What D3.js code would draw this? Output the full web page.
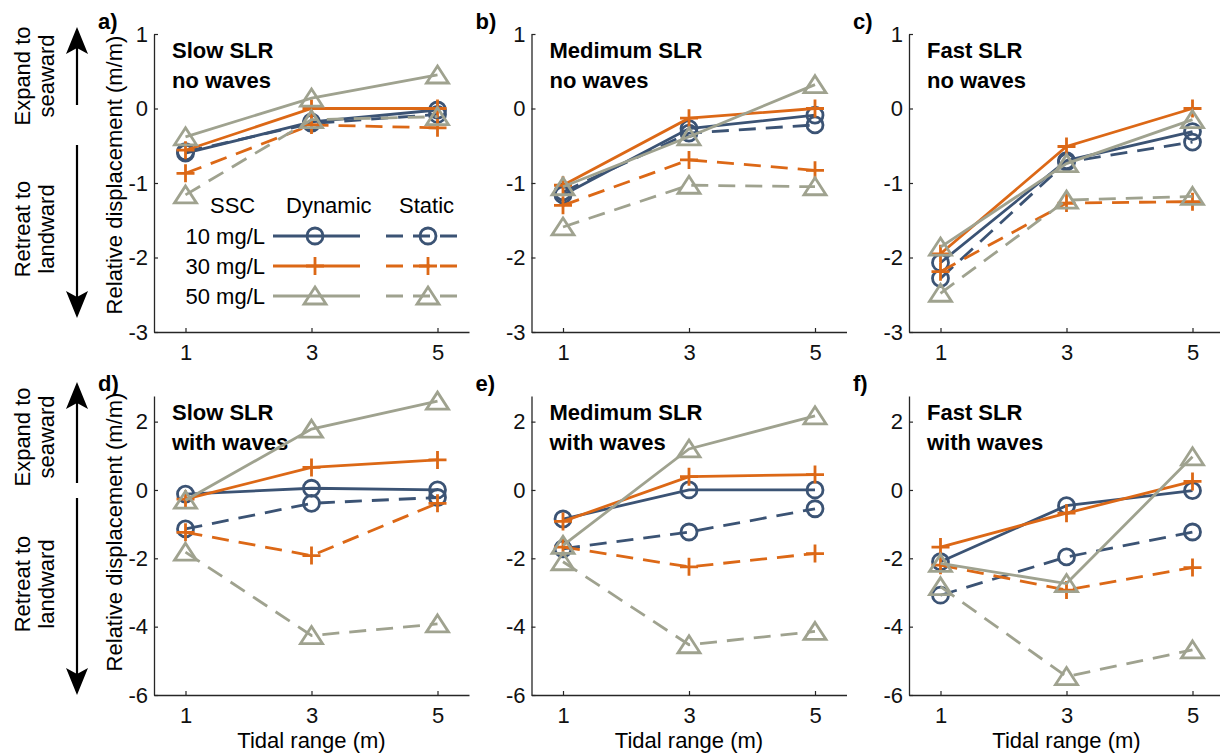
<!DOCTYPE html>
<html>
<head>
<meta charset="utf-8">
<script src="https://cdn.jsdelivr.net/npm/d3@7"></script>
<style>
  html, body { margin: 0; padding: 0; background: #fff; }
  svg { display: block; font-family: "Liberation Sans", Arial, sans-serif; }
</style>
</head>
<body>
<svg id="chart" width="1220" height="755"></svg>
<script>
// ---------- data ----------
const tidalRange = [1, 3, 5];
const panelLabels = ["a)", "b)", "c)", "d)", "e)", "f)"];
const titleLine1 = ["Slow SLR", "Medimum SLR", "Fast SLR", "Slow SLR", "Medimum SLR", "Fast SLR"];
const titleLine2 = ["no waves", "no waves", "no waves", "with waves", "with waves", "with waves"];
const topTicks = [-3, -2, -1, 0, 1];
const bottomTicks = [-6, -4, -2, 0, 2];
const xTicks = [1, 3, 5];
const sscLabels = ["10 mg/L", "30 mg/L", "50 mg/L"];

// values per panel (a..f), each at tidal range 1, 3, 5
const dyn10 = [[-0.6, -0.18, -0.02], [-1.16, -0.27, -0.09], [-2.07, -0.7, -0.31],
               [-0.12, 0.05, 0.0], [-0.85, 0.0, 0.0], [-2.1, -0.46, -0.02]];
const dyn30 = [[-0.56, 0.0, 0.0], [-1.03, -0.13, 0.0], [-1.95, -0.51, 0.0],
               [-0.27, 0.66, 0.88], [-0.92, 0.39, 0.45], [-1.67, -0.68, 0.25]];
const dyn50 = [[-0.38, 0.14, 0.45], [-1.05, -0.38, 0.32], [-1.86, -0.74, -0.15],
               [-0.3, 1.78, 2.6], [-1.62, 1.2, 2.17], [-2.15, -2.74, 0.97]];
const sta10 = [[-0.58, -0.2, -0.08], [-1.12, -0.33, -0.22], [-2.28, -0.72, -0.45],
               [-1.14, -0.39, -0.22], [-1.72, -1.23, -0.55], [-3.08, -1.96, -1.23]];
const sta30 = [[-0.87, -0.22, -0.26], [-1.3, -0.69, -0.83], [-2.19, -1.27, -1.25],
               [-1.24, -1.92, -0.39], [-1.67, -2.25, -1.86], [-2.2, -2.93, -2.27]];
const sta50 = [[-1.16, -0.15, -0.11], [-1.59, -1.03, -1.05], [-2.48, -1.23, -1.18],
               [-1.82, -4.26, -3.92], [-2.1, -4.53, -4.14], [-2.83, -5.46, -4.68]];

// ---------- styles ----------
const colors = { c10: "#3b5374", c30: "#dc6816", c50: "#9fa28f" };
const LW = 2.8;
const seriesDefs = [
  { data: dyn10, color: colors.c10, dash: null, marker: "circle" },
  { data: sta10, color: colors.c10, dash: "17,10", marker: "circle" },
  { data: dyn30, color: colors.c30, dash: null, marker: "plus" },
  { data: sta30, color: colors.c30, dash: "17,10", marker: "plus" },
  { data: dyn50, color: colors.c50, dash: null, marker: "tri" },
  { data: sta50, color: colors.c50, dash: "17,10", marker: "tri" }
];

const svg = d3.select("#chart");
const FS = 22;
const axisColor = "#262626";
const panelX = [154, 531.5, 909];
const plotW = 315;
const rows = [
  { top: 34, bottom: 332, domain: [-3, 1], ticks: topTicks },
  { top: 396, bottom: 695, domain: [-6, 2.75], ticks: bottomTicks }
];

function drawMarker(g, type, x, y, color) {
  if (type === "circle") {
    g.append("circle").attr("cx", x).attr("cy", y).attr("r", 8)
      .attr("fill", "none").attr("stroke", color).attr("stroke-width", LW);
  } else if (type === "plus") {
    g.append("path").attr("d", `M${x - 9},${y}H${x + 9}M${x},${y - 9}V${y + 9}`)
      .attr("stroke", color).attr("stroke-width", LW).attr("fill", "none");
  } else {
    g.append("path").attr("d", `M${x},${y - 9}L${x + 11},${y + 8}L${x - 11},${y + 8}Z`)
      .attr("stroke", color).attr("stroke-width", LW).attr("fill", "none")
      .attr("stroke-linejoin", "miter");
  }
}

for (let p = 0; p < 6; p++) {
  const row = rows[Math.floor(p / 3)];
  const x0 = panelX[p % 3];
  const x = d3.scaleLinear().domain([0.5, 5.5]).range([x0, x0 + plotW]);
  const y = d3.scaleLinear().domain(row.domain).range([row.bottom, row.top]);
  const g = svg.append("g");

  // axes
  const xAxis = d3.axisBottom(x).tickValues(xTicks).tickSizeInner(-4).tickSizeOuter(0).tickPadding(12)
    .tickFormat(d => String(d));
  const gx = g.append("g").attr("transform", `translate(0,${row.bottom})`).call(xAxis);
  const yAxis = d3.axisLeft(y).tickValues(row.ticks).tickSizeInner(-4).tickSizeOuter(0).tickPadding(6)
    .tickFormat(d => String(d));
  const gy = g.append("g").attr("transform", `translate(${x0},0)`).call(yAxis);
  [gx, gy].forEach(a => {
    a.select(".domain").attr("stroke", axisColor).attr("stroke-width", 1.3);
    a.selectAll(".tick line").attr("stroke", axisColor).attr("stroke-width", 1.2);
    a.selectAll("text").attr("font-size", FS).attr("fill", "#111")
      .attr("font-family", "Liberation Sans, Arial, sans-serif");
  });
  gx.selectAll(".tick text").attr("dy", "0.71em");

  // panel label
  g.append("text").attr("x", x0 - 56).attr("y", row.top - 5)
    .attr("font-size", FS).attr("font-weight", "bold").text(panelLabels[p]);
  // titles
  g.append("text").attr("x", x0 + 18).attr("y", row.top + 24)
    .attr("font-size", FS).attr("font-weight", "bold").text(titleLine1[p]);
  g.append("text").attr("x", x0 + 18).attr("y", row.top + 54)
    .attr("font-size", FS).attr("font-weight", "bold").text(titleLine2[p]);

  // series
  const line = d3.line().x((d, i) => x(tidalRange[i])).y(d => y(d));
  seriesDefs.forEach(s => {
    const vals = s.data[p];
    g.append("path").attr("d", line(vals)).attr("fill", "none")
      .attr("stroke", s.color).attr("stroke-width", LW)
      .attr("stroke-dasharray", s.dash);
    vals.forEach((v, i) => drawMarker(g, s.marker, x(tidalRange[i]), y(v), s.color));
  });

  // x label bottom row
  if (p >= 3) {
    g.append("text").attr("x", x(3)).attr("y", 748).attr("text-anchor", "middle")
      .attr("font-size", FS).text("Tidal range (m)");
  }
}

// y-axis labels and arrows on left
rows.forEach((row, r) => {
  const cy = r === 0 ? 175 : 532;
  svg.append("text").attr("transform", `translate(122,${cy}) rotate(-90)`)
    .attr("text-anchor", "middle").attr("font-size", FS).text("Relative displacement (m/m)");

  const upTip = r === 0 ? 27 : 382, upEnd = r === 0 ? 105 : 483;
  const dnStart = r === 0 ? 145 : 498, dnTip = r === 0 ? 318 : 695;
  const ax = 77;
  svg.append("line").attr("x1", ax).attr("x2", ax).attr("y1", upTip + 20).attr("y2", upEnd)
    .attr("stroke", "#000").attr("stroke-width", 2.2);
  svg.append("path").attr("d", `M${ax},${upTip}L${ax + 11},${upTip + 27}L${ax},${upTip + 21}L${ax - 11},${upTip + 27}Z`)
    .attr("fill", "#000");
  svg.append("line").attr("x1", ax).attr("x2", ax).attr("y1", dnStart).attr("y2", dnTip - 20)
    .attr("stroke", "#000").attr("stroke-width", 2.2);
  svg.append("path").attr("d", `M${ax},${dnTip}L${ax + 11},${dnTip - 27}L${ax},${dnTip - 21}L${ax - 11},${dnTip - 27}Z`)
    .attr("fill", "#000");

  const ey = r === 0 ? 76 : 437, ry = r === 0 ? 229 : 584;
  [["Expand to", 30, ey], ["seaward", 54, ey], ["Retreat to", 30, ry], ["landward", 54, ry]]
    .forEach(([t, bx, by]) => {
      svg.append("text").attr("transform", `translate(${bx},${by}) rotate(-90)`)
        .attr("text-anchor", "middle").attr("font-size", FS).text(t);
    });
});

// legend in panel a
const lg = svg.append("g");
lg.append("text").attr("x", 210).attr("y", 213).attr("font-size", FS).text("SSC");
lg.append("text").attr("x", 286).attr("y", 213).attr("font-size", FS).text("Dynamic");
lg.append("text").attr("x", 399).attr("y", 213).attr("font-size", FS).text("Static");
const legRowY = [236, 266, 296];
const legMarkers = ["circle", "plus", "tri"];
const legColors = [colors.c10, colors.c30, colors.c50];
sscLabels.forEach((lab, i) => {
  const ly = legRowY[i];
  lg.append("text").attr("x", 265).attr("y", ly + 8).attr("text-anchor", "end")
    .attr("font-size", FS).text(lab);
  lg.append("line").attr("x1", 273).attr("x2", 360).attr("y1", ly).attr("y2", ly)
    .attr("stroke", legColors[i]).attr("stroke-width", LW);
  drawMarker(lg, legMarkers[i], 315, ly, legColors[i]);
  lg.append("line").attr("x1", 386).attr("x2", 466).attr("y1", ly).attr("y2", ly)
    .attr("stroke", legColors[i]).attr("stroke-width", LW).attr("stroke-dasharray", "17,10");
  drawMarker(lg, legMarkers[i], 428, ly, legColors[i]);
});
</script>
</body>
</html>
